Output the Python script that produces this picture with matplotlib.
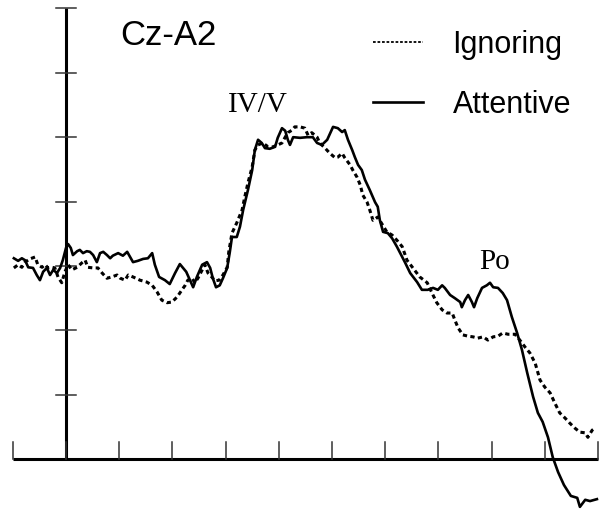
import numpy as np
import matplotlib
matplotlib.use("Agg")
import matplotlib.pyplot as plt
from matplotlib.lines import Line2D

# Cz-A2 averaged response, time in ms (1 tick = 1 ms), amplitude in tick units
att_t = [-0.98, -0.90, -0.83, -0.77, -0.71, -0.62, -0.55, -0.49, -0.43, -0.36,
         -0.30, -0.24, -0.17, -0.11, -0.06, 0.00, 0.04, 0.09, 0.13, 0.21,
         0.26, 0.32, 0.39, 0.45, 0.51, 0.58, 0.64, 0.70, 0.77, 0.83,
         0.88, 0.98, 1.07, 1.15, 1.22, 1.26, 1.35, 1.45, 1.54, 1.62,
         1.67, 1.75, 1.86, 1.95, 2.05, 2.14, 2.26, 2.33, 2.39, 2.46,
         2.56, 2.65, 2.71, 2.76, 2.82, 2.89, 2.95, 3.03, 3.08, 3.12,
         3.21, 3.27, 3.33, 3.42, 3.50, 3.55, 3.61, 3.68, 3.74, 3.83,
         3.93, 3.98, 4.06, 4.12, 4.17, 4.21, 4.27, 4.40, 4.53, 4.64,
         4.72, 4.81, 4.91, 5.02, 5.11, 5.19, 5.24, 5.30, 5.38, 5.43,
         5.49, 5.56, 5.62, 5.71, 5.81, 5.86, 5.90, 5.96, 6.05, 6.13,
         6.22, 6.32, 6.37, 6.47, 6.60, 6.69, 6.80, 6.90, 6.99, 7.07,
         7.12, 7.22, 7.31, 7.41, 7.44, 7.50, 7.56, 7.63, 7.67, 7.73,
         7.82, 7.91, 7.97, 8.03, 8.12, 8.21, 8.29, 8.38, 8.48, 8.57,
         8.67, 8.78, 8.87, 8.96, 9.06, 9.15, 9.25, 9.36, 9.49, 9.61,
         9.66, 9.76, 9.85, 9.98]
att_amp = [0.12, 0.08, 0.12, 0.09, -0.02, -0.03, -0.14, -0.22, -0.09, -0.03,
           -0.14, -0.06, -0.11, -0.03, 0.09, 0.28, 0.34, 0.28, 0.17, 0.23,
           0.25, 0.20, 0.23, 0.22, 0.17, 0.06, 0.20, 0.22, 0.17, 0.12,
           0.16, 0.20, 0.16, 0.22, 0.12, 0.06, 0.08, 0.11, 0.12, 0.20,
           0.02, -0.17, -0.22, -0.28, -0.11, 0.03, -0.09, -0.22, -0.33, -0.17,
           0.02, 0.06, -0.03, -0.19, -0.33, -0.30, -0.19, -0.03, 0.22, 0.45,
           0.45, 0.61, 0.87, 1.18, 1.49, 1.80, 1.96, 1.91, 1.83, 1.82,
           1.85, 1.99, 2.14, 2.10, 1.96, 1.88, 2.00, 1.99, 2.00, 2.00,
           1.91, 1.88, 1.96, 2.16, 2.14, 2.08, 2.11, 1.96, 1.80, 1.69,
           1.57, 1.49, 1.34, 1.18, 0.99, 0.92, 0.71, 0.53, 0.51, 0.43,
           0.30, 0.14, 0.06, -0.11, -0.25, -0.37, -0.37, -0.34, -0.37, -0.30,
           -0.34, -0.45, -0.50, -0.56, -0.64, -0.53, -0.45, -0.56, -0.64, -0.50,
           -0.34, -0.30, -0.26, -0.33, -0.34, -0.42, -0.53, -0.79, -1.04, -1.30,
           -1.66, -2.03, -2.28, -2.42, -2.66, -2.97, -3.20, -3.40, -3.57, -3.60,
           -3.74, -3.63, -3.65, -3.62]

ign_t = [-0.98, -0.90, -0.83, -0.77, -0.68, -0.58, -0.53, -0.45, -0.39, -0.34,
         -0.26, -0.21, -0.15, -0.08, -0.02, 0.04, 0.11, 0.21, 0.30, 0.36,
         0.41, 0.51, 0.60, 0.68, 0.77, 0.86, 0.96, 1.02, 1.11, 1.17,
         1.26, 1.39, 1.52, 1.62, 1.71, 1.80, 1.90, 1.99, 2.09, 2.18,
         2.24, 2.29, 2.37, 2.42, 2.48, 2.56, 2.61, 2.67, 2.74, 2.80,
         2.88, 2.95, 3.03, 3.06, 3.12, 3.21, 3.31, 3.36, 3.42, 3.50,
         3.55, 3.61, 3.70, 3.80, 3.89, 3.98, 4.06, 4.12, 4.17, 4.25,
         4.30, 4.40, 4.49, 4.55, 4.62, 4.72, 4.77, 4.87, 4.96, 5.06,
         5.11, 5.19, 5.24, 5.34, 5.39, 5.47, 5.53, 5.58, 5.66, 5.71,
         5.77, 5.86, 6.03, 6.13, 6.22, 6.32, 6.41, 6.52, 6.65, 6.79,
         6.88, 6.97, 7.07, 7.16, 7.26, 7.31, 7.37, 7.46, 7.56, 7.65,
         7.74, 7.84, 7.93, 8.03, 8.12, 8.21, 8.31, 8.44, 8.53, 8.63,
         8.72, 8.82, 8.91, 9.00, 9.10, 9.19, 9.28, 9.38, 9.47, 9.57,
         9.66, 9.76, 9.81, 9.89, 9.94]
ign_amp = [-0.03, 0.02, -0.02, 0.06, 0.11, 0.14, 0.02, -0.02, 0.02, -0.03,
           -0.02, -0.03, -0.17, -0.26, -0.09, 0.02, -0.06, -0.02, 0.05, 0.09,
           -0.02, -0.03, -0.03, -0.11, -0.19, -0.17, -0.14, -0.19, -0.22, -0.14,
           -0.17, -0.22, -0.25, -0.30, -0.40, -0.53, -0.57, -0.56, -0.48, -0.37,
           -0.30, -0.22, -0.19, -0.26, -0.19, -0.06, 0.02, -0.11, -0.17, -0.23,
           -0.22, -0.14, -0.02, 0.22, 0.51, 0.67, 0.87, 1.07, 1.29, 1.54,
           1.80, 1.88, 1.91, 1.85, 1.85, 1.88, 1.91, 2.00, 2.07, 2.11,
           2.16, 2.16, 2.14, 2.03, 2.07, 2.00, 1.91, 1.83, 1.75, 1.68,
           1.69, 1.75, 1.68, 1.57, 1.49, 1.38, 1.26, 1.10, 0.99, 0.87,
           0.71, 0.76, 0.53, 0.48, 0.40, 0.30, 0.09, -0.03, -0.17, -0.26,
           -0.42, -0.57, -0.68, -0.73, -0.73, -0.84, -0.96, -1.07, -1.09, -1.10,
           -1.12, -1.10, -1.15, -1.10, -1.09, -1.04, -1.06, -1.06, -1.15, -1.26,
           -1.35, -1.51, -1.77, -1.88, -1.97, -2.13, -2.28, -2.36, -2.44, -2.52,
           -2.58, -2.59, -2.66, -2.55, -2.52]

x_ticks = list(range(-1, 11))
y_ticks = [-2, -1, 0, 1, 2, 3, 4]
x_axis_level = -3

fig = plt.figure(figsize=(6.09, 5.11), dpi=100)
ax = fig.add_axes([0, 0, 1, 1])
ax.set_xlim(-1.2406, 10.207)
ax.set_ylim(-3.804, 4.130)
ax.axis("off")

# hand-drawn style axes
ax.plot([x_ticks[0], x_ticks[-1]], [x_axis_level, x_axis_level], color="black", lw=2.2, solid_capstyle="butt")
ax.plot([0, 0], [x_axis_level, y_ticks[-1]], color="black", lw=2.2, solid_capstyle="butt")
for t in x_ticks:
    ax.plot([t, t], [x_axis_level, x_axis_level + 0.27], color="#333333", lw=1.1)
for a in y_ticks:
    ax.plot([-0.19, 0.19], [a, a], color="#333333", lw=1.1)

ax.plot(ign_t, ign_amp, color="black", lw=2.2, linestyle=(0, (1.4, 1.1)))
ax.plot(att_t, att_amp, color="black", lw=1.9)

ax.text(0.197, 0.930, "Cz-A2", transform=ax.transAxes, fontsize=25,
        family="Liberation Sans", va="center", ha="left")
ax.text(0.424, 0.795, "IV/V", transform=ax.transAxes, fontsize=21,
        family="Liberation Serif", va="center", ha="center")
ax.text(0.812, 0.487, "Po", transform=ax.transAxes, fontsize=21,
        family="Liberation Serif", va="center", ha="center")

handles = [Line2D([], [], color="black", lw=1.3, linestyle=(0, (1.5, 1.0))),
           Line2D([], [], color="black", lw=1.9)]
ax.legend(handles, ["Ignoring", "Attentive"], loc="upper left",
          bbox_to_anchor=(373 / 609, 1 - 30 / 511), frameon=False,
          prop={"family": "Liberation Sans", "size": 22},
          handlelength=1.65, handletextpad=0.95, labelspacing=0.98,
          borderpad=0, borderaxespad=0)

fig.savefig("out.png", dpi=100)
